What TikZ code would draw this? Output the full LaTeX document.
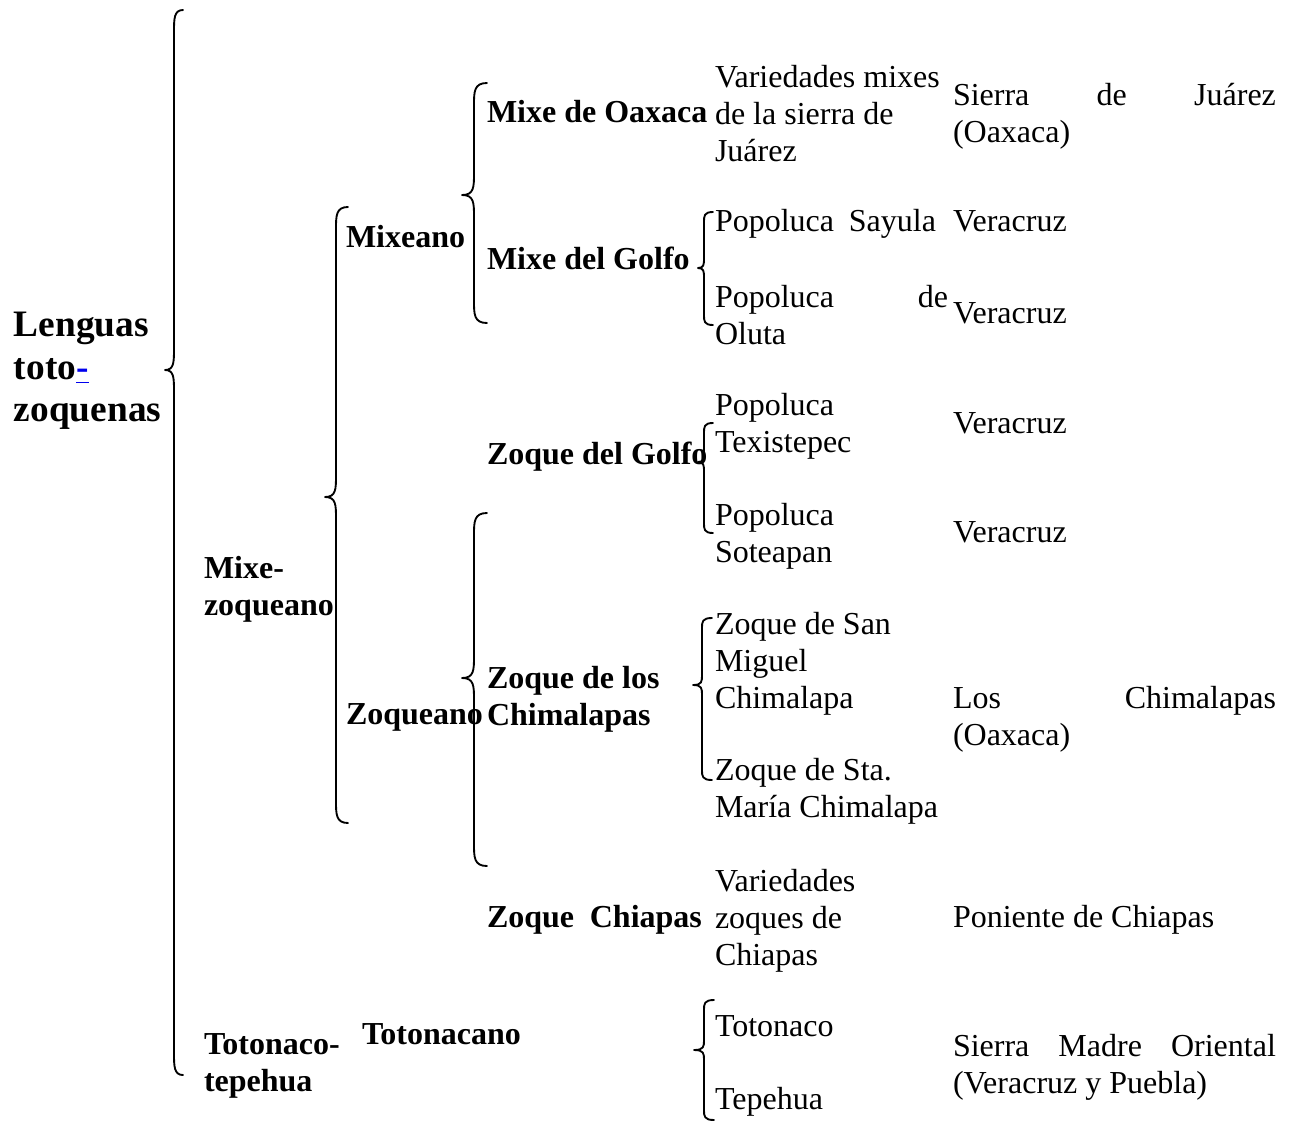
\documentclass[tikz,border=0pt]{standalone}
\usepackage{fontspec}
\setmainfont{Liberation Serif}
\definecolor{linkblue}{RGB}{0,0,238}

% Curly brace opening to the right.
% #1 end x, #2 spine x, #3 tip x, #4 top y, #5 tip y, #6 bottom y, #7 curl radius
\newcommand\curlybrace[7]{%
  \draw[bracestroke] ({#1},{#4}) .. controls ({#2},{#4}) and ({#2},{#4+0.4*#7}) .. ({#2},{#4+#7})
    -- ({#2},{#5-#7}) .. controls ({#2},{#5-0.35*#7}) and ({#2},{#5}) .. ({#3},{#5})
    .. controls ({#2},{#5}) and ({#2},{#5+0.35*#7}) .. ({#2},{#5+#7})
    -- ({#2},{#6-#7}) .. controls ({#2},{#6-0.4*#7}) and ({#2},{#6}) .. ({#1},{#6});
}

\tikzset{
  txt/.style={inner sep=0pt, outer sep=0pt, anchor=north west, align=left,
    yshift=9.66pt, font=\fontsize{12}{13.8}\selectfont, execute at begin node=\strut},
  btxt/.style={txt, font=\fontsize{12}{13.8}\selectfont\bfseries},
  ttl/.style={inner sep=0pt, outer sep=0pt, anchor=north west, align=left,
    yshift=11.13pt, font=\fontsize{14}{15.9}\selectfont\bfseries, execute at begin node=\strut},
  bracestroke/.style={line width=0.7pt, line cap=round, line join=round}
}

\begin{document}
\begin{tikzpicture}[x=0.375pt, y=-0.375pt]
\useasboundingbox (0,0) rectangle (1294,1122);

% root
\node[ttl] (root) at (14,342) {Lenguas\\toto\textcolor{linkblue}{\underline{-}}\\zoquenas};
\curlybrace{183}{174}{165}{10}{370}{1075}{22}

% families
\node[btxt] (mz) at (204,582) {Mixe-\\zoqueano};
\node[btxt] (tt) at (204,1059) {Totonaco-\\tepehua};
\curlybrace{348}{336}{325}{207}{497}{823}{22}

% branches
\node[btxt] (mixeano) at (346,247) {Mixeano};
\node[btxt] (zoqueano) at (346,724) {Zoqueano};
\node[btxt] (totonacano) at (362,1044) {Totonacano};
\curlybrace{487}{474}{462}{83}{195}{323}{22}
\curlybrace{487}{474}{462}{513}{678}{866}{22}

% groups
\node[btxt] (oax) at (487,122) {Mixe de Oaxaca};
\node[btxt] (mgolfo) at (487,269) {Mixe del Golfo};
\node[btxt] (zgolfo) at (487,464) {Zoque del Golfo};
\node[btxt] (chim) at (487,692) {Zoque de los\\Chimalapas};
\node[btxt] (zchia) at (487,927) {\makebox[80.6pt][s]{Zoque Chiapas}};

% languages
\node[txt] (vmix) at (715,91) {Variedades mixes\\de la sierra de\\Juárez};
\curlybrace{713}{704}{698}{212}{268}{325}{10}
\node[txt] (psay) at (715,231) {\makebox[82.9pt][s]{Popoluca Sayula}};
\node[txt] (polu) at (715,311) {\makebox[87.4pt][s]{Popoluca de}\\Oluta};
\curlybrace{713}{704}{698}{423}{462}{533}{10}
\node[txt] (ptex) at (715,419) {Popoluca\\Texistepec};
\node[txt] (psot) at (715,529) {Popoluca\\Soteapan};
\curlybrace{712}{702}{693}{618}{685}{780}{10}
\node[txt] (zsm) at (715,638) {Zoque de San\\Miguel\\Chimalapa};
\node[txt] (zsta) at (715,784) {Zoque de Sta.\\María Chimalapa};
\node[txt] (vzoq) at (715,895) {Variedades\\zoques de\\Chiapas};
\curlybrace{714}{704}{694}{1000}{1050}{1120}{10}
\node[txt] (toto) at (715,1036) {Totonaco};
\node[txt] (tepe) at (715,1109) {Tepehua};

% regions
\node[txt] (r1) at (953,109) {\makebox[121.1pt][s]{Sierra de Juárez}\\(Oaxaca)};
\node[txt] (r2) at (953,231) {Veracruz};
\node[txt] (r3) at (953,323) {Veracruz};
\node[txt] (r4) at (953,433) {Veracruz};
\node[txt] (r5) at (953,542) {Veracruz};
\node[txt] (r6) at (953,712) {\makebox[121.1pt][s]{Los Chimalapas}\\(Oaxaca)};
\node[txt] (r7) at (953,927) {Poniente de Chiapas};
\node[txt] (r8) at (953,1060) {\makebox[121.1pt][s]{Sierra Madre Oriental}\\(Veracruz y Puebla)};
\end{tikzpicture}
\end{document}
